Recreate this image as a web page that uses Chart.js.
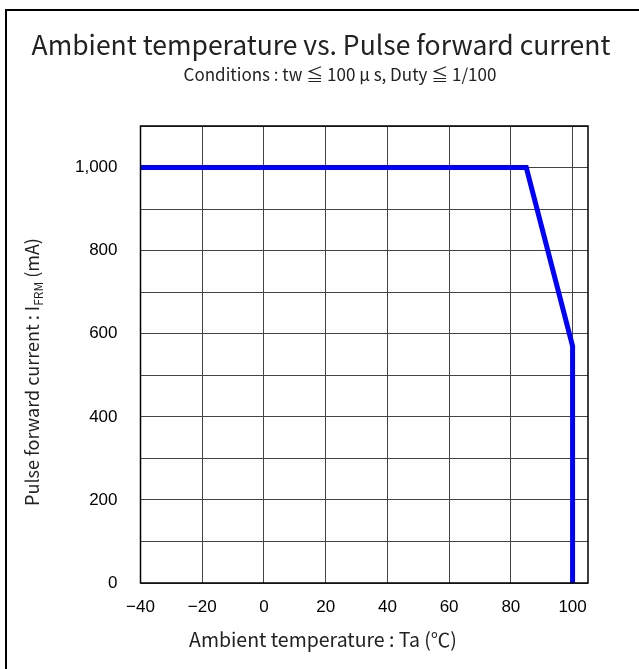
<!DOCTYPE html>
<html>
<head>
<meta charset="utf-8">
<script src="https://cdn.jsdelivr.net/npm/chart.js@4"></script>
<style>
body { margin: 0; background: #fff; }
</style>
</head>
<body>
<canvas id="myChart" width="639" height="669"></canvas>
<script>
// derating curve
var temps = [-40, 85, 100, 100];
var currents = [1000, 1000, 570, 0];

var xTicks = [-40, -20, 0, 20, 40, 60, 80, 100];
var yGrid = [0, 100, 200, 300, 400, 500, 600, 700, 800, 900, 1000, 1100];
var yLabels = [0, 200, 400, 600, 800, 1000];

var titleText = 'Ambient temperature vs. Pulse forward current';
var subtitleText = 'Conditions : tw \u2266 100 \u03bc s, Duty \u2266 1/100';
var xTitle = 'Ambient temperature : Ta (\u2103)';
var yTitle = ['Pulse forward current : I', 'FRM', ' (mA)'];

var textFont = '"Noto Sans CJK JP", "Noto Sans", sans-serif';
var tickFont = '"Liberation Sans", Arial, sans-serif';

var points = temps.map(function (t, i) { return { x: t, y: currents[i] }; });

var framePlugin = {
    id: 'frame',
    afterDraw: function (chart) {
        var ctx = chart.ctx;
        var a = chart.chartArea;
        ctx.save();
        // plot frame
        ctx.strokeStyle = '#000';
        ctx.lineWidth = 1.5;
        ctx.strokeRect(a.left, a.top, a.right - a.left, a.bottom - a.top);
        // outer border of the figure
        ctx.lineWidth = 2;
        ctx.strokeRect(6, 10, 700, 700);

        ctx.fillStyle = '#222';
        ctx.textAlign = 'center';
        ctx.textBaseline = 'alphabetic';
        ctx.font = '26.5px ' + textFont;
        ctx.fillText(titleText, 321, 55);
        ctx.font = '17px ' + textFont;
        ctx.fillText(subtitleText, 340, 81);
        ctx.font = '19.5px ' + textFont;
        ctx.fillText(xTitle, 323, 647);

        // y title with subscript
        ctx.translate(38.5, 372);
        ctx.rotate(-Math.PI / 2);
        ctx.textAlign = 'left';
        ctx.font = '18px ' + textFont;
        var w1 = ctx.measureText(yTitle[0]).width;
        var w3 = ctx.measureText(yTitle[2]).width;
        ctx.font = '12px ' + textFont;
        var w2 = ctx.measureText(yTitle[1]).width;
        var x = -(w1 + w2 + w3) / 2;
        ctx.font = '18px ' + textFont;
        ctx.fillText(yTitle[0], x, 0);
        ctx.font = '12px ' + textFont;
        ctx.fillText(yTitle[1], x + w1, 4);
        ctx.font = '18px ' + textFont;
        ctx.fillText(yTitle[2], x + w1 + w2, 0);
        ctx.restore();
    }
};

var ctx = document.getElementById('myChart').getContext('2d');
var myChart = new Chart(ctx, {
    type: 'line',
    data: {
        datasets: [
            {
                data: points,
                borderColor: '#0000ff',
                borderWidth: 5,
                pointRadius: 0,
                tension: 0,
                fill: false,
            },
        ],
    },
    options: {
        responsive: false,
        animation: false,
        devicePixelRatio: 1,
        layout: {
            padding: { left: 0, top: 126, right: 51, bottom: 0 },
        },
        plugins: {
            legend: { display: false },
            tooltip: { enabled: false },
        },
        scales: {
            x: {
                type: 'linear',
                min: -40,
                max: 105,
                afterBuildTicks: function (axis) {
                    axis.ticks = xTicks.map(function (v) { return { value: v }; });
                },
                afterFit: function (axis) { axis.height = 86; },
                grid: { color: '#444', lineWidth: 1, drawTicks: false },
                border: { display: false },
                ticks: {
                    padding: 14,
                    color: '#000',
                    font: { family: tickFont, size: 17 },
                    maxRotation: 0,
                    callback: function (v) { return v < 0 ? '\u2212' + Math.abs(v) : String(v); },
                },
            },
            y: {
                min: 0,
                max: 1100,
                afterBuildTicks: function (axis) {
                    axis.ticks = yGrid.map(function (v) { return { value: v }; });
                },
                afterFit: function (axis) { axis.width = 140.5; },
                grid: { color: '#444', lineWidth: 1, drawTicks: false },
                border: { display: false },
                ticks: {
                    padding: 23,
                    color: '#000',
                    font: { family: tickFont, size: 17 },
                    callback: function (v) {
                        return yLabels.indexOf(v) >= 0 ? v.toLocaleString('en-US') : '';
                    },
                },
            },
        },
    },
    plugins: [framePlugin],
});
</script>
</body>
</html>
